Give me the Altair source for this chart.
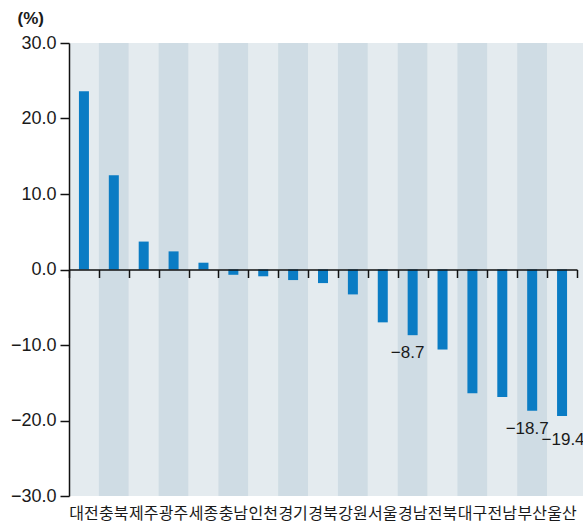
import altair as alt
import pandas as pd

regions = ["대전", "충북", "제주", "광주", "세종", "충남", "인천", "경기", "경북",
           "강원", "서울", "경남", "전북", "대구", "전남", "부산", "울산"]
values = [23.6, 12.5, 3.7, 2.4, 0.9, -0.7, -0.9, -1.4, -1.8,
          -3.3, -7.0, -8.7, -10.6, -16.4, -16.9, -18.7, -19.4]
label_regions = ["경남", "부산", "울산"]
label_values = [-8.7, -18.7, -19.4]
label_lane = [0, 0, 1]
y_ticks = [-30, -20, -10, 0, 10, 20, 30]

W, H = 514, 453
BANDS_W = 508

df = pd.DataFrame({"region": regions, "value": values})
df["shade"] = ["light" if i % 2 == 0 else "dark" for i in range(len(regions))]
lab = pd.DataFrame({"region": label_regions, "value": label_values, "lane": label_lane})

xscale = alt.Scale(domain=regions, paddingInner=0, paddingOuter=0, range=[0, BANDS_W])
yscale = alt.Scale(domain=[-30, 30], nice=False, zero=False)

num_font = "Liberation Sans"
kr_font = "Noto Sans CJK KR"

yaxis = alt.Axis(values=y_ticks, format=".1f", grid=False, domain=True, zindex=1,
                 domainColor="#111111", domainWidth=1.5, tickColor="#111111",
                 tickWidth=1.5, tickSize=9, labelFont=num_font, labelFontSize=18,
                 labelColor="#1a1a1a", labelPadding=4,
                 title="(%)", titleAngle=0, titleAlign="left",
                 titleBaseline="middle", titleX=-52, titleY=-25,
                 titleFont=num_font, titleFontSize=17, titleFontWeight="bold",
                 titleColor="#1a1a1a")

bg = alt.Chart(df).mark_rect().encode(
    x=alt.X("region:N", sort=regions, scale=xscale, title=None,
            axis=alt.Axis(orient="bottom", domain=False, ticks=False, labelAngle=0,
                          labelFont=kr_font, labelFontSize=16, labelColor="#1a1a1a",
                          labelPadding=9, labelBaseline="top", labelLimit=0)),
    y=alt.value(0),
    y2=alt.value(H),
    color=alt.Color("shade:N", legend=None,
                    scale=alt.Scale(domain=["light", "dark"], range=["#e4ebef", "#cfdce4"])),
)

bars = alt.Chart(df).mark_bar(size=10, color="#0a7cc4").encode(
    x=alt.X("region:N", sort=regions, scale=xscale, title=None,
            axis=alt.Axis(orient="bottom", offset=-H / 2, labels=False, domain=True,
                          domainColor="#111111", domainWidth=1.5, ticks=True, zindex=1,
                          tickBand="extent", tickSize=8, tickColor="#111111",
                          tickWidth=1.5)),
    y=alt.Y("value:Q", scale=yscale, axis=yaxis),
)

txt0 = alt.Chart(lab).transform_filter("datum.lane == 0").mark_text(
    baseline="top", align="center", dy=10, dx=-5, fontSize=17, font=num_font, color="#1a1a1a"
).encode(
    x=alt.X("region:N", sort=regions, scale=xscale, axis=None),
    y=alt.Y("value:Q", scale=yscale, axis=yaxis),
    text=alt.Text("value:Q", format=".1f"),
)
txt1 = alt.Chart(lab).transform_filter("datum.lane == 1").mark_text(
    baseline="top", align="center", dy=16, dx=1, fontSize=17, font=num_font, color="#1a1a1a"
).encode(
    x=alt.X("region:N", sort=regions, scale=xscale, axis=None),
    y=alt.Y("value:Q", scale=yscale, axis=yaxis),
    text=alt.Text("value:Q", format=".1f"),
)

chart = alt.layer(bg, bars, txt0, txt1).resolve_axis(x="independent").properties(
    width=W, height=H,
    autosize=alt.AutoSizeParams(type="none"),
    padding={"left": 69, "top": 43, "right": 0, "bottom": 35},
    background="white",
).configure_view(stroke=None, fill="#e4ebef")

chart.save("out.html", embed_options={"renderer": "svg", "actions": False})
